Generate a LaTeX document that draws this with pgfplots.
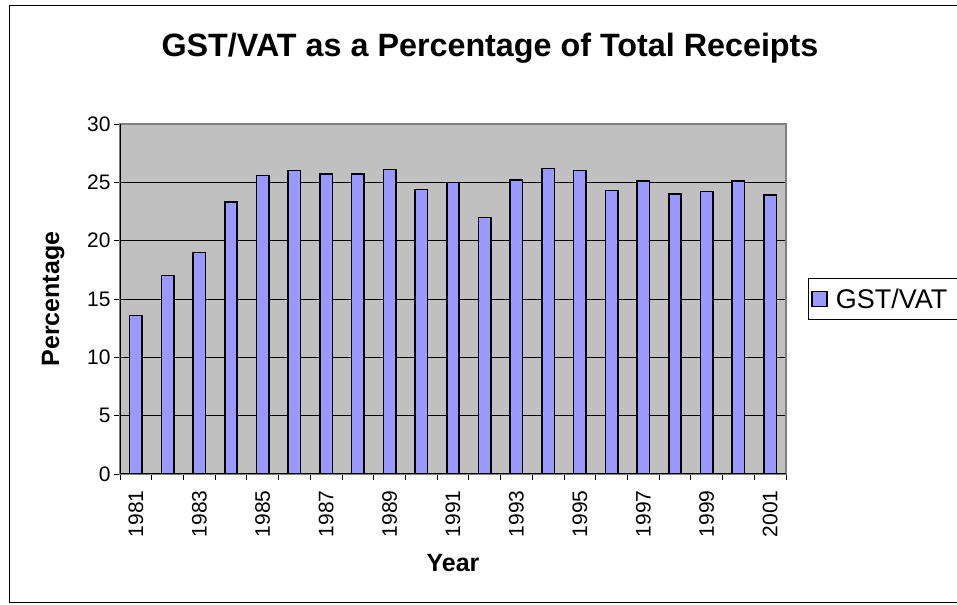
\documentclass[border=0pt]{standalone}
\usepackage{fontspec}
\setmainfont{Liberation Sans}
\usepackage{pgfplots}
\pgfplotsset{compat=1.18}
\definecolor{barblue}{HTML}{9999FF}
\definecolor{plotbg}{HTML}{C0C0C0}
\definecolor{framegray}{HTML}{808080}
\pgfplotstableread{
x y
0 13.6
1 17.0
2 19.0
3 23.3
4 25.6
5 26.0
6 25.7
7 25.7
8 26.1
9 24.4
10 25.0
11 22.0
12 25.2
13 26.2
14 26.0
15 24.3
16 25.1
17 24.0
18 24.2
19 25.1
20 23.9
}\gstdata
\begin{document}
\begin{tikzpicture}[x=1bp,y=1bp]
\draw[black, line width=1bp] (9,2) rectangle (990,599);
\begin{axis}[
  at={(120bp,131bp)}, anchor=south west,
  scale only axis, width=666bp, height=350bp,
  xmin=-0.5, xmax=20.5, ymin=0, ymax=30,
  ybar, bar width=12.5bp,
  axis background/.style={fill=plotbg},
  axis line style={framegray, line width=1.5bp},
  ytick={0,5,...,30},
  ymajorgrids, major grid style={black, line width=0.8bp},
  xtick={0,2,...,20},
  xticklabels={1981,1983,1985,1987,1989,1991,1993,1995,1997,1999,2001},
  minor xtick={-0.5,0.5,...,20.5},
  xtick pos=bottom, ytick pos=left,
  tick align=outside, major tick length=6bp, minor tick length=6bp,
  major x tick style={draw=none},
  tick style={black, line width=0.8bp},
  tick label style={font=\fontsize{21bp}{24bp}\selectfont},
  /pgf/number format/assume math mode=true,
  xticklabel style={rotate=90, anchor=east, xshift=-7bp},
  legend style={at={(1,0.5)}, anchor=west, xshift=22bp, draw=black, line width=0.8bp,
    fill=white, font=\fontsize{27bp}{30bp}\selectfont, inner xsep=3bp, inner ysep=8bp},
  legend image code/.code={\draw[fill=barblue,draw=black,line width=1.2bp] (5bp,-7.5bp) rectangle (20bp,7.5bp); \path (26bp,0bp);},
]
\addplot[fill=barblue, draw=black, line width=1.6bp] table[x=x,y=y]{\gstdata};
\addlegendentry{GST/VAT\rule{14bp}{0bp}}
\draw[black, line width=1bp] (rel axis cs:0,1) -- (rel axis cs:0,0) -- (rel axis cs:1,0);
\end{axis}
\node[anchor=base, font=\bfseries\fontsize{32.3bp}{36bp}\selectfont] at (490,548) {GST/VAT as a Percentage of Total Receipts};
\node[anchor=base, rotate=90, font=\bfseries\fontsize{25bp}{30bp}\selectfont] at (59,306) {Percentage};
\node[anchor=base, font=\bfseries\fontsize{25bp}{30bp}\selectfont] at (453,33) {Year};
\pgfresetboundingbox
\path[use as bounding box] (0,0) rectangle (957,605);
\end{tikzpicture}
\end{document}
